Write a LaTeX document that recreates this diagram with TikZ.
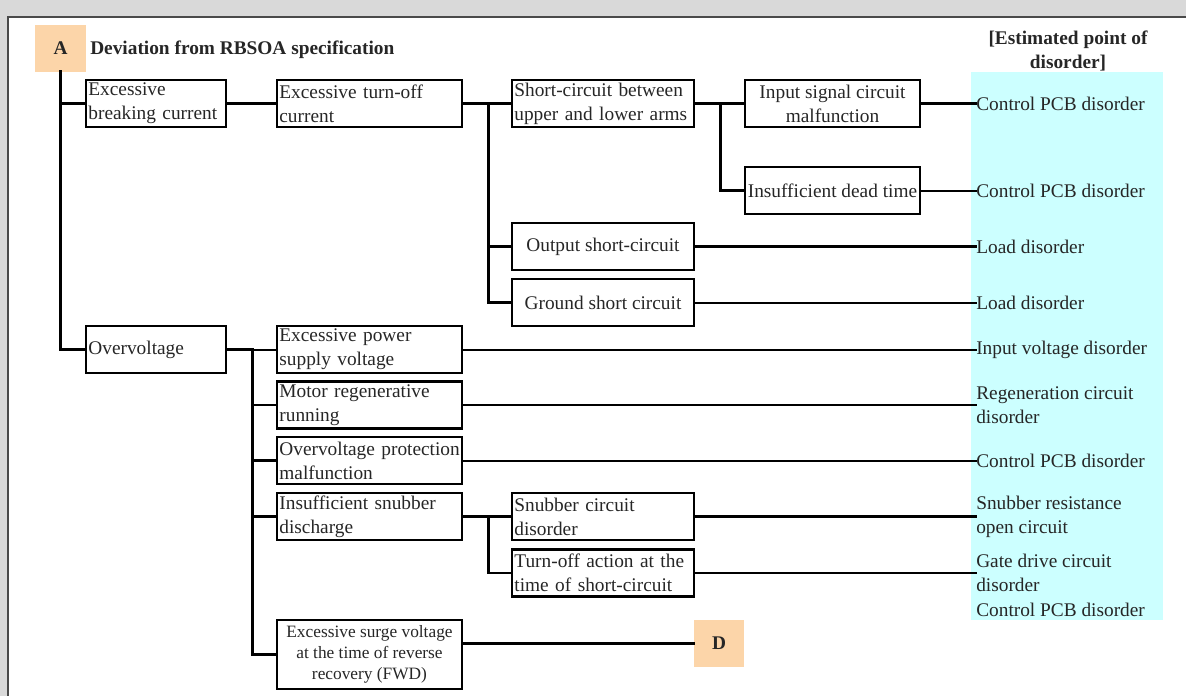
\documentclass[tikz,border=0pt]{standalone}
\usepackage{fontspec}
\setmainfont{Liberation Serif}
\usepackage{tikz}
\usetikzlibrary{positioning}
\definecolor{peach}{HTML}{FCD5A9}
\definecolor{paleblue}{HTML}{CCFFFF}
\definecolor{pagegray}{HTML}{D9D9D9}
\definecolor{framegray}{HTML}{4A4A4A}

\begin{document}
\begin{tikzpicture}[x=0.75pt,y=-0.75pt,line cap=rect,
    every node/.style={font=\fontsize{14.5}{18}\selectfont,text=black!85}]
        \tikzstyle{cause}=[draw=black,line width=1.9pt,rectangle,inner xsep=1.8pt,inner ysep=0pt,minimum height=35.25pt]
        \tikzstyle{narrow}=[cause,minimum width=105pt,text width=101.4pt,align=left]
        \tikzstyle{wide}=[cause,minimum width=138.75pt,text width=135.15pt,align=left]
        \tikzstyle{mid}=[cause,minimum width=136.5pt,text width=132.9pt,align=left]
        \tikzstyle{single}=[cause,minimum width=136.5pt,align=center]
        \tikzstyle{last}=[cause,minimum width=131.25pt,align=center]
        \tikzstyle{point}=[anchor=west,inner sep=0pt,align=left]
        \tikzstyle{tag}=[fill=peach,minimum width=38.25pt,minimum height=35.25pt,font=\fontsize{14.5}{18}\selectfont\bfseries]
        \tikzstyle{heavy}=[line width=2.2pt]
        \tikzstyle{light}=[line width=1.5pt]

    \useasboundingbox (0,0) rectangle (1186,696);
    % page edge
    \fill[pagegray] (0,0) rectangle (1186,16);
    \fill[pagegray] (0,0) rectangle (7,696);
    \draw[framegray,line width=1.3pt] (8,696) -- (8,16.8) -- (1186,16.8);
    \fill[paleblue] (971,72) rectangle (1163,620);

        \node[tag] (A) at (60.5,48) {A};
        \node[anchor=west,inner sep=0pt,font=\fontsize{14.5}{18}\selectfont\bfseries] (title) at (90,50) {Deviation from RBSOA specification};
        \node[align=center,inner sep=0pt,font=\fontsize{14.5}{18}\selectfont\bfseries] (head) at (1068,51) {[Estimated point of\\disorder]};

        \node[narrow] (brk) at (156,103.5) {Excessive\\breaking current};
        \node[wide] (toff) at (369.5,103.5) {Excessive turn-off\\current};
        \node[mid] (arms) at (603,103.5) {Short-circuit between\\upper and lower arms};
        \node[last] (sig) at (832.5,103.5) {Input signal circuit\\malfunction};
        \node[last] (dead) at (832.5,190.5) {Insufficient dead time};
        \node[single] (outsc) at (603,246.5) {Output short-circuit};
        \node[single] (gndsc) at (603,302.5) {Ground short circuit};

        \node[narrow] (ovv) at (156,349.5) {Overvoltage};
        \node[wide] (supply) at (369.5,349.5) {Excessive power\\supply voltage};
        \node[wide] (regen) at (369.5,405) {Motor regenerative\\running};
        \node[wide] (ovp) at (369.5,460.5) {\mbox{Overvoltage protection}\\malfunction};
        \node[wide] (snub) at (369.5,516.5) {Insufficient snubber\\discharge};
        \node[mid] (snubc) at (603,516.5) {Snubber circuit\\disorder};
        \node[mid] (tact) at (603,573) {Turn-off action at the\\time of short-circuit};
        \node[cause,minimum width=138.75pt,minimum height=51.75pt,align=center,font=\fontsize{13}{15.75}\selectfont] (surge) at (369.5,654.5) {Excessive surge voltage\\at the time of reverse\\recovery (FWD)};
        \node[tag,minimum width=37.5pt] (D) at (719,643.5) {D};

        \node[point] (pcb1) at (976,103.5) {Control PCB disorder};
        \node[point] (pcb2) at (976,190.5) {Control PCB disorder};
        \node[point] (load1) at (976,246.5) {Load disorder};
        \node[point] (load2) at (976,302.5) {Load disorder};
        \node[point] (inv) at (976,349.5) {Input voltage disorder};
        \node[point] (regc) at (976,405) {Regeneration circuit\\disorder};
        \node[point] (pcb3) at (976,460.5) {Control PCB disorder};
        \node[point] (sres) at (976,516.5) {Snubber resistance\\open circuit};
        \node[point] (gate) at (976,573) {Gate drive circuit\\disorder};
        \node[point] (pcb4) [below=8pt of gate.south west,anchor=north west] {Control PCB disorder};

    % tree
    \draw[heavy] (A.south) |- (brk.west);
    \draw[heavy] (A.south) |- (ovv.west);
    \draw[heavy] (brk) -- (toff);
    \draw[heavy] (toff) -- (arms);
    \draw[heavy] (toff.east) -- ++(25,0) |- (outsc.west);
    \draw[heavy] (toff.east) -- ++(25,0) |- (gndsc.west);
    \draw[heavy] (arms) -- (sig);
    \draw[heavy] (arms.east) -- ++(25,0) |- (dead.west);
    \draw[heavy] (sig) -- (pcb1);
    \draw[light] (dead) -- (pcb2);
    \draw[heavy] (outsc) -- (load1);
    \draw[light] (gndsc) -- (load2);
    \draw[light] (ovv) -- (supply);
    \draw[heavy] (ovv.east) -- ++(25,0) |- (regen.west);
    \draw[heavy] (ovv.east) -- ++(25,0) |- (ovp.west);
    \draw[heavy] (ovv.east) -- ++(25,0) |- (snub.west);
    \draw[heavy] (ovv.east) -- ++(25,0) |- (surge.west);
    \draw[light] (supply) -- (inv);
    \draw[heavy] (regen) -- (regc.west);
    \draw[light] (ovp) -- (pcb3);
    \draw[heavy] (snub) -- (snubc);
    \draw[heavy] (snub.east) -- ++(25,0) |- (tact.west);
    \draw[heavy] (snubc) -- (sres.west);
    \draw[light] (tact) -- (gate.west);
    \draw[heavy] (surge.east |- D) -- (D);
\end{tikzpicture}
\end{document}
